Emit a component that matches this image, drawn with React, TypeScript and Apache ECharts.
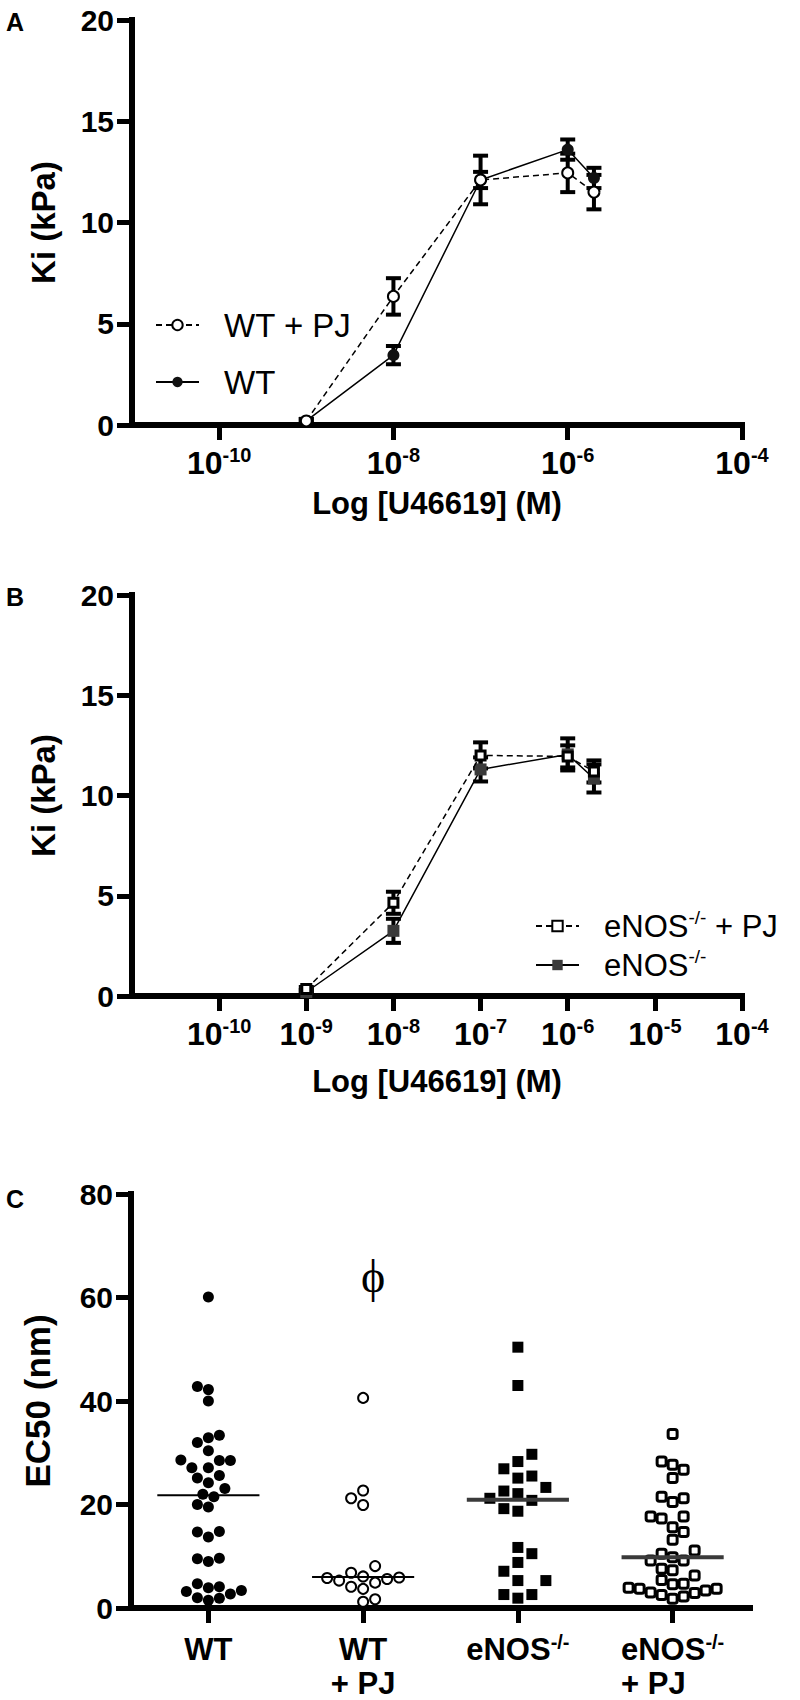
import React, { useEffect, useRef } from 'react';
import * as echarts from 'echarts';

const FONT = '"Liberation Sans", Arial, Helvetica, sans-serif';
const SERIF = '"Liberation Serif", "Times New Roman", serif';

// ---------- Panel A : Ki vs log[U46619] ----------
const concA = [1e-9, 1e-8, 1e-7, 1e-6, 2e-6];
const wtPJ = [0.2, 6.35, 12.1, 12.45, 11.5];
const wtPJErr = [0.1, 0.9, 0.4, 0.95, 0.85];
const wt = [0.2, 3.45, 12.1, 13.6, 12.2];
const wtErr = [0.1, 0.45, 1.2, 0.5, 0.5];
const ticksA = [-10, -8, -6, -4];

// ---------- Panel B ----------
const concB = [1e-9, 1e-8, 1e-7, 1e-6, 2e-6];
const enosPJ = [0.35, 4.65, 12.0, 11.95, 11.2];
const enosPJErr = [0.1, 0.55, 0.65, 0.55, 0.55];
const enos = [0.2, 3.25, 11.3, 12.05, 10.85];
const enosErr = [0.1, 0.6, 0.6, 0.8, 0.7];
const ticksB = [-10, -9, -8, -7, -6, -5, -4];

// ---------- Panel C : EC50 ----------
const groupsC = ['WT', 'WT + PJ', 'eNOS-/-', 'eNOS-/- + PJ'];
const ec50WT = [60.1, 42.2, 42.8, 40.0, 32.9, 33.4, 32.0, 30.4, 28.5, 27.1, 28.5, 28.6, 27.1, 25.6, 25.1, 24.2, 23.1, 22.0, 21.5, 20.0, 19.5, 14.8, 14.7, 13.7, 9.5, 9.0, 9.6, 4.7, 3.9, 3.2, 2.0, 1.5, 1.9, 2.7, 3.4, 4.1];
const ec50WTPJ = [40.6, 22.7, 21.2, 19.9, 8.1, 6.1, 5.8, 6.8, 5.9, 5.3, 5.6, 3.7, 4.9, 4.1, 1.2, 1.7];
const ec50ENOS = [50.4, 43.0, 29.7, 28.3, 26.9, 25.1, 25.5, 22.6, 23.3, 21.2, 22.1, 20.8, 19.2, 18.7, 11.7, 10.5, 8.8, 7.1, 5.3, 5.3, 2.6, 2.6, 1.9];
const ec50ENOSPJ = [33.6, 27.7, 28.3, 25.1, 26.7, 21.5, 21.2, 20.5, 17.7, 17.3, 17.7, 15.6, 14.7, 13.2, 11.1, 10.5, 9.8, 9.2, 9.2, 7.6, 7.3, 6.3, 5.4, 4.7, 4.6, 3.9, 3.4, 3.7, 3.7, 2.5, 2.9, 1.8, 2.2, 3.0];
const mediansC = [21.8, 6.0, 20.9, 9.8];
const phiMark = { group: 1, value: 64 };

// ---------- layout constants ----------
const GA = { left: 132, top: 20, width: 610, height: 405 };
const GB = { left: 132, top: 595, width: 610, height: 401 };
const GC = { left: 131, top: 1194, width: 619, height: 414 };
const C_XMIN = -0.5, C_XMAX = 3.5, C_YMAX = 80;

function swarmOffsets(values: number[], diam: number, square: boolean): number[] {
  const pxPerX = GC.width / (C_XMAX - C_XMIN);
  const pxPerY = GC.height / C_YMAX;
  const order = values.map((_, i) => i).sort((a, b) => values[a] - values[b]);
  const placed: { x: number; y: number }[] = [];
  const out = new Array(values.length).fill(0);
  const step = diam / 2;
  let flip = false;
  for (const i of order) {
    const y = values[i] * pxPerY;
    let chosen = 0;
    outer: for (let k = 0; k < 60; k++) {
      const signs = k === 0 ? [0] : flip ? [-1, 1] : [1, -1];
      for (const s of signs) {
        const x = s * k * step;
        const ok = placed.every((p) =>
          square
            ? Math.abs(p.x - x) >= diam || Math.abs(p.y - y) >= diam
            : Math.hypot(p.x - x, p.y - y) >= diam
        );
        if (ok) {
          chosen = x;
          break outer;
        }
      }
    }
    if (chosen !== 0) flip = !flip;
    placed.push({ x: chosen, y });
    out[i] = chosen / pxPerX;
  }
  return out;
}

function swarmData(values: number[], group: number, diam: number, square: boolean) {
  const offs = swarmOffsets(values, diam, square);
  return values.map((v, i) => [group + offs[i], v]);
}

const axisLine = { show: true, onZero: false, lineStyle: { color: '#000', width: 6, cap: 'square' } };
const tickStyle = { show: true, length: 15, lineStyle: { color: '#000', width: 5 } };
const yLabel = { color: '#000', fontSize: 30, fontWeight: 'bold', fontFamily: FONT, margin: 18 };

const supRich = {
  b: { fontSize: 32, fontWeight: 'bold', fontFamily: FONT, color: '#000', lineHeight: 35 },
  s: { fontSize: 20, fontWeight: 'bold', fontFamily: FONT, color: '#000', lineHeight: 20, verticalAlign: 'top' },
};

function errorBarSeries(xAxisIndex: number, conc: number[], vals: number[], errs: number[]) {
  return {
    type: 'custom',
    xAxisIndex,
    yAxisIndex: xAxisIndex,
    silent: true,
    z: 1,
    encode: { x: 0, y: 1 },
    data: conc.map((c, i) => [Math.log10(c), vals[i], errs[i]]),
    renderItem: (_p: any, api: any) => {
      const x = api.value(0);
      const y = api.value(1);
      const e = api.value(2);
      const top = api.coord([x, y + e]);
      const bot = api.coord([x, y - e]);
      const w = 7.5;
      const style = { stroke: '#000', lineWidth: 4 };
      return {
        type: 'group',
        children: [
          { type: 'line', shape: { x1: top[0], y1: top[1], x2: bot[0], y2: bot[1] }, style },
          { type: 'line', shape: { x1: top[0] - w, y1: top[1], x2: top[0] + w, y2: top[1] }, style },
          { type: 'line', shape: { x1: bot[0] - w, y1: bot[1], x2: bot[0] + w, y2: bot[1] }, style },
        ],
      };
    },
  };
}

function medianSeries() {
  return {
    type: 'custom',
    xAxisIndex: 2,
    yAxisIndex: 2,
    silent: true,
    z: 5,
    encode: { x: 0, y: 1 },
    data: mediansC.map((m, i) => [i, m]),
    renderItem: (_p: any, api: any) => {
      const x = api.value(0);
      const m = api.value(1);
      const a = api.coord([x - 0.33, m]);
      const b = api.coord([x + 0.33, m]);
      const gray = x >= 2;
      return {
        type: 'line',
        shape: { x1: a[0], y1: a[1], x2: b[0], y2: b[1] },
        style: { stroke: gray ? '#3a3a3a' : '#000', lineWidth: gray ? 4 : 2 },
      };
    },
  };
}

function buildOption() {
  const logAxis = (gridIndex: number, ticks: number[], nameGap: number) => ({
    type: 'value',
    gridIndex,
    min: -11,
    max: -4,
    name: 'Log [U46619] (M)',
    nameLocation: 'middle',
    nameGap,
    nameTextStyle: { color: '#000', fontSize: 31, fontWeight: 'bold', fontFamily: FONT },
    axisLine,
    axisTick: { ...tickStyle, customValues: ticks },
    axisLabel: {
      customValues: ticks,
      margin: 20,
      formatter: (v: number) => `{b|10}{s|${v}}`,
      rich: supRich,
    },
    splitLine: { show: false },
  });
  const kiAxis = (gridIndex: number) => ({
    type: 'value',
    gridIndex,
    min: 0,
    max: 20,
    interval: 5,
    name: 'Ki (kPa)',
    nameLocation: 'middle',
    nameGap: 72,
    nameTextStyle: { color: '#000', fontSize: 33, fontWeight: 'bold', fontFamily: FONT },
    axisLine,
    axisTick: tickStyle,
    axisLabel: yLabel,
    splitLine: { show: false },
  });

  const catLabels = [
    '{b|WT}',
    '{b|WT}\n{b|+ PJ}',
    '{b|eNOS}{s|-/-}',
    '{b|eNOS}{s|-/-}\n{l|+ PJ}',
  ];

  const legendRich = {
    n: { fontSize: 31, fontFamily: FONT, color: '#000', lineHeight: 36 },
    s: { fontSize: 19, fontFamily: FONT, color: '#000', lineHeight: 20, verticalAlign: 'top' },
  };

  const letter = (text: string, top: number) => ({
    text,
    left: 6,
    top,
    padding: 0,
    textStyle: { fontSize: 25, fontWeight: 'bold', fontFamily: FONT, color: '#000' },
  });

  return {
    animation: false,
    backgroundColor: '#fff',
    title: [letter('A', 9), letter('B', 584), letter('C', 1186)],
    grid: [
      { ...GA, containLabel: false },
      { ...GB, containLabel: false },
      { ...GC, containLabel: false },
    ],
    legend: [
      {
        data: ['WT + PJ', 'WT'],
        orient: 'vertical',
        left: 155,
        top: 305,
        padding: 0,
        itemWidth: 43,
        itemHeight: 13,
        itemGap: 17,
        selectedMode: false,
        textStyle: { fontSize: 33, fontFamily: FONT, color: '#000', lineHeight: 40, padding: [0, 0, 0, 20] },
      },
      {
        data: ['eNOS-/- + PJ', 'eNOS-/-'],
        orient: 'vertical',
        left: 535,
        top: 908,
        padding: 0,
        itemWidth: 43,
        itemHeight: 13,
        itemGap: 3,
        selectedMode: false,
        formatter: (name: string) =>
          name === 'eNOS-/- + PJ' ? '{n|eNOS}{s|-/-}{n| + PJ}' : '{n|eNOS}{s|-/-}',
        textStyle: { fontSize: 31, fontFamily: FONT, color: '#000', lineHeight: 36, padding: [0, 0, 0, 20], rich: legendRich },
      },
    ],
    xAxis: [
      logAxis(0, ticksA, 63),
      logAxis(1, ticksB, 70),
      {
        type: 'value',
        gridIndex: 2,
        min: C_XMIN,
        max: C_XMAX,
        axisLine,
        axisTick: { ...tickStyle, customValues: [0, 1, 2, 3] },
        axisLabel: {
          customValues: [0, 1, 2, 3],
          margin: 24,
          formatter: (v: number) => catLabels[Math.round(v)] || '',
          rich: {
            b: { fontSize: 31, fontWeight: 'bold', fontFamily: FONT, color: '#000', lineHeight: 34 },
            l: { fontSize: 31, fontWeight: 'bold', fontFamily: FONT, color: '#000', lineHeight: 34, align: 'left' },
            s: { fontSize: 20, fontWeight: 'bold', fontFamily: FONT, color: '#000', lineHeight: 18, verticalAlign: 'top' },
          },
        },
        splitLine: { show: false },
      },
    ],
    yAxis: [
      kiAxis(0),
      kiAxis(1),
      {
        type: 'value',
        gridIndex: 2,
        min: 0,
        max: C_YMAX,
        interval: 20,
        name: 'EC50 (nm)',
        nameLocation: 'middle',
        nameGap: 76,
        nameTextStyle: { color: '#000', fontSize: 35, fontWeight: 'bold', fontFamily: FONT },
        axisLine,
        axisTick: tickStyle,
        axisLabel: yLabel,
        splitLine: { show: false },
      },
    ],
    series: [
      // Panel A
      errorBarSeries(0, concA, wt, wtErr),
      errorBarSeries(0, concA, wtPJ, wtPJErr),
      {
        name: 'WT',
        type: 'line',
        xAxisIndex: 0,
        yAxisIndex: 0,
        z: 2,
        data: concA.map((c, i) => [Math.log10(c), wt[i]]),
        symbol: 'circle',
        symbolSize: 12,
        itemStyle: { color: '#111', borderColor: '#111', borderWidth: 0 },
        lineStyle: { color: '#000', width: 1.5, type: 'solid' },
      },
      {
        name: 'WT + PJ',
        type: 'line',
        xAxisIndex: 0,
        yAxisIndex: 0,
        z: 3,
        data: concA.map((c, i) => [Math.log10(c), wtPJ[i]]),
        symbol: 'circle',
        symbolSize: 11,
        itemStyle: { color: '#fff', borderColor: '#000', borderWidth: 2 },
        lineStyle: { color: '#000', width: 1.5, type: [6, 4] },
      },
      // Panel B
      errorBarSeries(1, concB, enos, enosErr),
      errorBarSeries(1, concB, enosPJ, enosPJErr),
      {
        name: 'eNOS-/-',
        type: 'line',
        xAxisIndex: 1,
        yAxisIndex: 1,
        z: 2,
        data: concB.map((c, i) => [Math.log10(c), enos[i]]),
        symbol: 'rect',
        symbolSize: 12,
        itemStyle: { color: '#3a3a3a', borderWidth: 0 },
        lineStyle: { color: '#000', width: 1.5, type: 'solid' },
      },
      {
        name: 'eNOS-/- + PJ',
        type: 'line',
        xAxisIndex: 1,
        yAxisIndex: 1,
        z: 3,
        data: concB.map((c, i) => [Math.log10(c), enosPJ[i]]),
        symbol: 'rect',
        symbolSize: 9,
        itemStyle: { color: '#fff', borderColor: '#000', borderWidth: 3 },
        lineStyle: { color: '#000', width: 1.5, type: [6, 4] },
      },
      // Panel C
      {
        name: groupsC[0],
        type: 'scatter',
        xAxisIndex: 2,
        yAxisIndex: 2,
        data: swarmData(ec50WT, 0, 11, false),
        symbol: 'circle',
        symbolSize: 11,
        itemStyle: { color: '#000', opacity: 1 },
      },
      {
        name: groupsC[1],
        type: 'scatter',
        xAxisIndex: 2,
        yAxisIndex: 2,
        data: swarmData(ec50WTPJ, 1, 12, false),
        symbol: 'circle',
        symbolSize: 10,
        itemStyle: { color: '#fff', borderColor: '#000', borderWidth: 2, opacity: 1 },
        markPoint: {
          symbol: 'circle',
          symbolSize: 1,
          itemStyle: { color: 'rgba(0,0,0,0)' },
          label: {
            show: true,
            position: 'inside',
            offset: [10, 0],
            formatter: '\u03D5',
            fontSize: 46,
            fontFamily: SERIF,
            color: '#000',
          },
          data: [{ coord: [phiMark.group, phiMark.value] }],
        },
      },
      {
        name: groupsC[2],
        type: 'scatter',
        xAxisIndex: 2,
        yAxisIndex: 2,
        data: swarmData(ec50ENOS, 2, 14, true),
        symbol: 'rect',
        symbolSize: 11,
        itemStyle: { color: '#000', opacity: 1 },
      },
      {
        name: groupsC[3],
        type: 'scatter',
        xAxisIndex: 2,
        yAxisIndex: 2,
        data: swarmData(ec50ENOSPJ, 3, 11, true),
        symbol: 'roundRect',
        symbolSize: 9,
        itemStyle: { color: '#fff', borderColor: '#000', borderWidth: 3, opacity: 1 },
      },
      medianSeries(),
    ],
  };
}

export default function App() {
  const ref = useRef<HTMLDivElement>(null);
  useEffect(() => {
    if (!ref.current) return;
    const chart = echarts.init(ref.current, null, { renderer: 'svg' });
    chart.setOption(buildOption() as any);
    return () => chart.dispose();
  }, []);
  return (
    <div
      ref={ref}
      style={{ position: 'absolute', left: 0, top: 0, width: 800, height: 1700, background: '#fff' }}
    />
  );
}
